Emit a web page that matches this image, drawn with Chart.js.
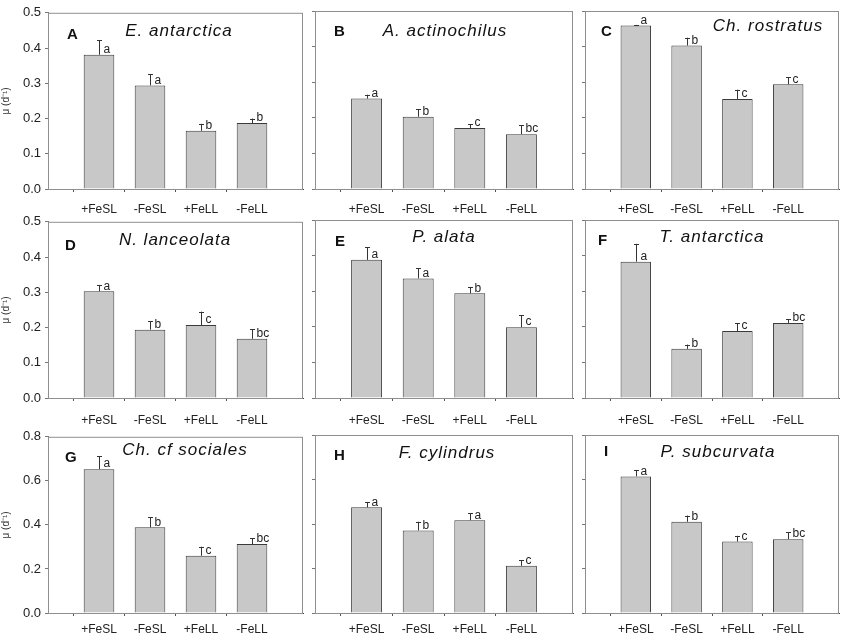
<!DOCTYPE html>
<html>
<head>
<meta charset="utf-8">
<script src="https://cdn.jsdelivr.net/npm/chart.js@4.4.1/dist/chart.umd.min.js"></script>
<style>
  body { margin: 0; background: #fff; }
  #wrap { position: relative; width: 844px; height: 638px; overflow: hidden; }
  #wrap canvas { position: absolute; }
</style>
</head>
<body>
<div id="wrap"></div>
<script>
// Categories (treatments)
const categories = ['+FeSL', '-FeSL', '+FeLL', '-FeLL'];
const panelLetters = ['A', 'B', 'C', 'D', 'E', 'F', 'G', 'H', 'I'];
const speciesNames = ['E. antarctica', 'A. actinochilus', 'Ch. rostratus',
                      'N. lanceolata', 'P. alata', 'T. antarctica',
                      'Ch. cf sociales', 'F. cylindrus', 'P. subcurvata'];

// Growth rate mu (d-1), standard error, significance groups
const growthA = [0.381, 0.294, 0.165, 0.187];
const seA     = [0.041, 0.031, 0.020, 0.013];
const groupsA = ['a', 'a', 'b', 'b'];

const growthB = [0.254, 0.203, 0.171, 0.154];
const seB     = [0.011, 0.021, 0.011, 0.025];
const groupsB = ['a', 'b', 'c', 'bc'];

const growthC = [0.459, 0.403, 0.253, 0.294];
const seC     = [0.002, 0.022, 0.026, 0.020];
const groupsC = ['a', 'b', 'c', 'c'];

const growthD = [0.303, 0.194, 0.207, 0.168];
const seD     = [0.018, 0.024, 0.038, 0.027];
const groupsD = ['a', 'b', 'c', 'bc'];

const growthE = [0.388, 0.336, 0.294, 0.199];
const seE     = [0.035, 0.028, 0.018, 0.034];
const groupsE = ['a', 'a', 'b', 'c'];

const growthF = [0.383, 0.138, 0.188, 0.211];
const seF     = [0.050, 0.012, 0.022, 0.010];
const groupsF = ['a', 'b', 'c', 'bc'];

const growthG = [0.653, 0.389, 0.260, 0.313];
const seG     = [0.059, 0.046, 0.041, 0.026];
const groupsG = ['a', 'b', 'c', 'bc'];

const growthH = [0.475, 0.371, 0.417, 0.212];
const seH     = [0.024, 0.039, 0.032, 0.025];
const groupsH = ['a', 'b', 'a', 'c'];

const growthI = [0.614, 0.410, 0.321, 0.332];
const seI     = [0.029, 0.028, 0.026, 0.031];
const groupsI = ['a', 'b', 'c', 'bc'];

// y axis per row
const rowMax  = [0.5, 0.5, 0.8];
const rowStep = [0.1, 0.1, 0.2];

const growth = [growthA, growthB, growthC, growthD, growthE, growthF, growthG, growthH, growthI];
const errors = [seA, seB, seC, seD, seE, seF, seG, seH, seI];
const groups = [groupsA, groupsB, groupsC, groupsD, groupsE, groupsF, groupsG, groupsH, groupsI];

// Layout (pixels)
const plotLeft    = [48, 315, 585];
const plotRight   = [303, 573, 839];
const canvasLeft  = [0, 308, 578];
const canvasRight = [306, 576, 844];
const plotTop     = [11, 220, 435];
const plotBottom  = [189, 398, 613];
const xTickPad    = [10, 12, 6];
// title / letter placement relative to plot area: [letterX, letterY, titleX, titleY]
const labelPos = [
  [19, 22, 131, 18], [19, 21, 130, 20], [16, 21, 183, 15],
  [17, 24, 127, 18], [20, 22, 129, 17], [13, 21, 127, 17],
  [17, 21, 137, 13], [19, 21, 132, 18], [19, 17, 133, 17]
];

const FONT = "'Liberation Sans', Arial, sans-serif";

// Plugin: box, error bars, group letters, panel title
const panelDecor = {
    id: 'panelDecor',
    afterDatasetsDraw(chart, args, opts) {
        const ctx = chart.ctx;
        const area = chart.chartArea;
        const yScale = chart.scales.y;
        const meta = chart.getDatasetMeta(0);

        ctx.save();
        // frame
        ctx.strokeStyle = '#8f8f8f';
        ctx.lineWidth = 1;
        ctx.strokeRect(area.left + 0.5, area.top + 0.5, area.right - area.left - 1, area.bottom - area.top);

        // error bars + letters
        ctx.strokeStyle = '#333';
        ctx.fillStyle = '#222';
        ctx.font = '12px ' + FONT;
        ctx.textAlign = 'left';
        ctx.textBaseline = 'bottom';
        opts.means.forEach((m, i) => {
            const bar = meta.data[i + 1];
            const x = Math.round(bar.x) + 0.5;
            const yTop = yScale.getPixelForValue(m);
            const yErr = yScale.getPixelForValue(m + opts.se[i]);
            ctx.beginPath();
            ctx.moveTo(x, yTop);
            ctx.lineTo(x, yErr);
            ctx.moveTo(x - 2.5, Math.round(yErr) + 0.5);
            ctx.lineTo(x + 2.5, Math.round(yErr) + 0.5);
            ctx.stroke();
            ctx.fillText(opts.groups[i], x + 4, yTop + 1);
        });

        // panel letter
        const pos = opts.pos;
        ctx.font = 'bold 15px ' + FONT;
        ctx.textBaseline = 'middle';
        ctx.fillStyle = '#111';
        ctx.fillText(opts.letter, area.left + pos[0], area.top + pos[1]);

        // species name
        ctx.font = 'italic 17px ' + FONT;
        ctx.textAlign = 'center';
        ctx.letterSpacing = '1px';
        ctx.fillText(opts.name, area.left + pos[2], area.top + pos[3]);
        ctx.restore();
    }
};

function makePanel(i) {
    const col = i % 3;
    const row = Math.floor(i / 3);
    const top = plotTop[row] - 10;
    const xAxisH = 34;
    const width = canvasRight[col] - canvasLeft[col];

    const canvas = document.createElement('canvas');
    canvas.width = width;
    canvas.height = plotBottom[row] - top + xAxisH;
    canvas.style.left = canvasLeft[col] + 'px';
    canvas.style.top = top + 'px';
    document.getElementById('wrap').appendChild(canvas);

    const labels = [''].concat(categories, ['']);
    const values = [null].concat(growth[i], [null]);

    new Chart(canvas, {
        type: 'bar',
        data: {
            labels: labels,
            datasets: [{
                data: values,
                backgroundColor: '#c8c8c8',
                borderColor: '#3a3a3a',
                borderWidth: 1,
                barPercentage: 0.6,
                categoryPercentage: 1
            }]
        },
        options: {
            responsive: false,
            animation: false,
            devicePixelRatio: 1,
            layout: {
                padding: { top: 10, right: canvasRight[col] - plotRight[col], left: 0, bottom: 0 }
            },
            plugins: {
                legend: { display: false },
                tooltip: { enabled: false },
                panelDecor: {
                    means: growth[i],
                    se: errors[i],
                    groups: groups[i],
                    letter: panelLetters[i],
                    name: speciesNames[i],
                    pos: labelPos[i]
                }
            },
            scales: {
                x: {
                    type: 'category',
                    offset: false,
                    afterFit: function(scale) {
                        scale.height = xAxisH;
                        scale.paddingLeft = 0;
                        scale.paddingRight = 0;
                    },
                    border: { color: '#444', width: 1 },
                    grid: {
                        drawOnChartArea: false,
                        tickLength: 3,
                        tickColor: c => (c.index === 0 || c.index === 5) ? 'rgba(0,0,0,0)' : '#555'
                    },
                    ticks: {
                        autoSkip: false,
                        maxRotation: 0,
                        padding: xTickPad[row],
                        color: '#222',
                        font: { family: FONT, size: 12 }
                    }
                },
                y: {
                    min: 0,
                    max: rowMax[row],
                    afterFit: function(scale) { scale.width = plotLeft[col] - canvasLeft[col]; },
                    border: { color: '#777', width: 1 },
                    grid: {
                        drawOnChartArea: false,
                        tickLength: 3,
                        tickColor: '#777'
                    },
                    title: {
                        display: col === 0,
                        text: 'μ (d⁻¹)',
                        color: '#333',
                        padding: 0,
                        font: { family: FONT, size: 10 }
                    },
                    ticks: {
                        display: col === 0,
                        stepSize: rowStep[row],
                        padding: 4,
                        color: '#222',
                        font: { family: FONT, size: 13 },
                        callback: v => v.toFixed(1)
                    }
                }
            }
        },
        plugins: [panelDecor]
    });
}

document.addEventListener('DOMContentLoaded', function() {
    for (let i = 0; i < 9; i++) makePanel(i);
});
</script>
</body>
</html>
